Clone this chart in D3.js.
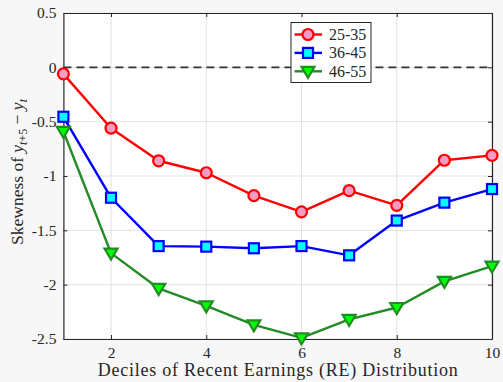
<!DOCTYPE html>
<html>
<head>
<meta charset="utf-8">
<script src="https://cdn.jsdelivr.net/npm/d3@7/dist/d3.min.js"></script>
<style>
  html, body { margin: 0; padding: 0; background: #f7f7f7; }
  svg { display: block; }
  text { font-family: "Liberation Serif", "DejaVu Serif", serif; fill: #262626; }
</style>
</head>
<body>
<svg id="chart" width="503" height="382"></svg>
<script>
// Skewness of 5-year earnings changes by decile of recent earnings, per age group
const deciles = [1, 2, 3, 4, 5, 6, 7, 8, 9, 10];
const age25to35 = [-0.06, -0.56, -0.86, -0.97, -1.18, -1.33, -1.135, -1.27, -0.855, -0.81];
const age36to45 = [-0.455, -1.20, -1.645, -1.65, -1.665, -1.645, -1.73, -1.41, -1.245, -1.12];
const age46to55 = [-0.59, -1.71, -2.035, -2.195, -2.37, -2.49, -2.32, -2.21, -1.97, -1.83];
const seriesNames = ["25-35", "36-45", "46-55"];
const xTicks = [2, 4, 6, 8, 10];
const yTicks = [0.5, 0, -0.5, -1, -1.5, -2, -2.5];
const yTickLabels = ["0.5", "0", "-0.5", "-1", "-1.5", "-2", "-2.5"];

const svg = d3.select("#chart");
const margin = { left: 63.4, right: 11, top: 13, bottom: 43 };
const W = 503, H = 382;
const x = d3.scaleLinear().domain([1, 10]).range([margin.left, W - margin.right]);
const y = d3.scaleLinear().domain([-2.5, 0.5]).range([H - margin.bottom, margin.top]);

// plot area
svg.append("rect")
  .attr("x", x(1)).attr("y", y(0.5))
  .attr("width", x(10) - x(1)).attr("height", y(-2.5) - y(0.5))
  .attr("fill", "#ffffff");

// grid
const grid = svg.append("g").attr("stroke", "#e3e3e3").attr("stroke-width", 1);
xTicks.forEach(t => grid.append("line")
  .attr("x1", x(t)).attr("x2", x(t)).attr("y1", y(0.5)).attr("y2", y(-2.5)));
yTicks.forEach(t => grid.append("line")
  .attr("x1", x(1)).attr("x2", x(10)).attr("y1", y(t)).attr("y2", y(t)));

// zero reference line
svg.append("line")
  .attr("x1", x(1)).attr("x2", x(10)).attr("y1", y(0)).attr("y2", y(0))
  .attr("stroke", "#333").attr("stroke-width", 1.6).attr("stroke-dasharray", "8,5");

// axes
const axisStyle = g => {
  g.selectAll(".domain").attr("stroke", "#262626").attr("stroke-width", 1.2);
  g.selectAll(".tick line").attr("stroke", "#262626").attr("stroke-width", 1);
  g.selectAll(".tick text").style("font-family", "Liberation Serif, serif").style("font-size", "15.5px").attr("fill", "#262626");
};
svg.append("g").attr("transform", `translate(0,${y(-2.5)})`)
  .call(d3.axisBottom(x).tickValues(xTicks).tickSizeInner(-4).tickSizeOuter(0).tickPadding(8))
  .call(axisStyle);
svg.append("g").attr("transform", `translate(0,${y(0.5)})`)
  .call(d3.axisTop(x).tickValues(xTicks).tickSizeInner(-4).tickSizeOuter(0).tickFormat(""))
  .call(axisStyle);
svg.append("g").attr("transform", `translate(${x(1)},0)`)
  .call(d3.axisLeft(y).tickValues(yTicks).tickSizeInner(-4).tickSizeOuter(0).tickPadding(7)
    .tickFormat((d, i) => yTickLabels[i]))
  .call(axisStyle);
svg.append("g").attr("transform", `translate(${x(10)},0)`)
  .call(d3.axisRight(y).tickValues(yTicks).tickSizeInner(-4).tickSizeOuter(0).tickFormat(""))
  .call(axisStyle);

// series
const series = [
  { name: seriesNames[0], values: age25to35, line: "#ff0000", fill: "#f79bc4", marker: "circle" },
  { name: seriesNames[1], values: age36to45, line: "#0000ff", fill: "#00ffff", marker: "square" },
  { name: seriesNames[2], values: age46to55, line: "#238b23", fill: "#00ff00", marker: "triangle" }
];

function drawMarker(g, type, cx, cy) {
  if (type === "circle") {
    g.append("circle").attr("cx", cx).attr("cy", cy).attr("r", 5.5);
  } else if (type === "square") {
    g.append("rect").attr("x", cx - 5).attr("y", cy - 5).attr("width", 10).attr("height", 10);
  } else {
    g.append("path").attr("d", `M${cx - 6.5},${cy - 4.5}L${cx + 6.5},${cy - 4.5}L${cx},${cy + 6.5}Z`);
  }
}

const line = d3.line().x((d, i) => x(deciles[i])).y(d => y(d));
series.forEach(s => {
  svg.append("path").datum(s.values)
    .attr("d", line).attr("fill", "none")
    .attr("stroke", s.line).attr("stroke-width", 2.4).attr("stroke-linejoin", "round");
  const mg = svg.append("g").attr("fill", s.fill).attr("stroke", s.line).attr("stroke-width", 2.2);
  s.values.forEach((v, i) => drawMarker(mg, s.marker, x(deciles[i]), y(v)));
});

// legend
const lg = svg.append("g").attr("transform", "translate(291,22.5)");
lg.append("rect").attr("x", 0).attr("y", 0).attr("width", 80).attr("height", 60)
  .attr("fill", "#ffffff").attr("stroke", "#262626").attr("stroke-width", 1);
series.forEach((s, i) => {
  const cy = 12 + i * 18.4;
  lg.append("line").attr("x1", 3.5).attr("x2", 31).attr("y1", cy).attr("y2", cy)
    .attr("stroke", s.line).attr("stroke-width", 2.4);
  const mg = lg.append("g").attr("fill", s.fill).attr("stroke", s.line).attr("stroke-width", 2.2);
  drawMarker(mg, s.marker, 17, cy);
  lg.append("text").attr("x", 38).attr("y", cy + 5.5).style("font-size", "16px").text(s.name);
});

// axis titles
svg.append("text")
  .attr("x", (x(1) + x(10)) / 2).attr("y", 375.5)
  .attr("text-anchor", "middle").style("font-size", "18px")
  .attr("textLength", 360).attr("lengthAdjust", "spacing")
  .text("Deciles of Recent Earnings (RE) Distribution");

const yl = svg.append("text")
  .attr("transform", "translate(23,172) rotate(-90)")
  .attr("text-anchor", "middle").style("font-size", "17.5px");
yl.append("tspan").text("Skewness of ");
yl.append("tspan").style("font-style", "italic").text("y");
yl.append("tspan").attr("dy", 4).style("font-size", "12px").style("font-style", "italic").text("t");
yl.append("tspan").style("font-size", "12px").text("+5");
yl.append("tspan").attr("dy", -4).text(" − ");
yl.append("tspan").style("font-style", "italic").text("y");
yl.append("tspan").attr("dy", 4).style("font-size", "12px").style("font-style", "italic").text("t");
</script>
</body>
</html>
